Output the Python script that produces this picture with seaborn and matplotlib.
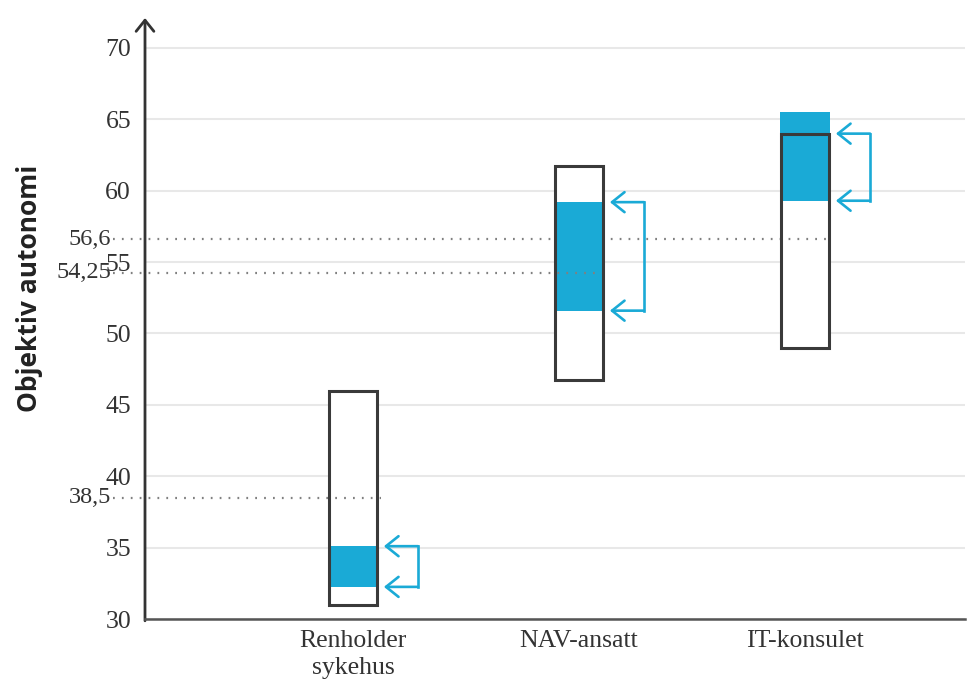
import numpy as np
import pandas as pd
import matplotlib
matplotlib.use("Agg")
import matplotlib.pyplot as plt
import seaborn as sns

# data
categories = ["Renholder\nsykehus", "NAV-ansatt", "IT-konsulet"]
range_low = [31.0, 46.75, 49.0]
range_high = [46.0, 61.75, 64.0]
fill_low = [32.25, 51.6, 59.3]
fill_high = [35.1, 59.2, 65.5]
arrow_top = [35.1, 59.2, 64.0]
arrow_bottom = [32.25, 51.6, 59.3]
ref_values = [38.5, 54.25, 56.6]
ref_labels = ["38,5", "54,25", "56,6"]
y_ticks = [30, 35, 40, 45, 50, 55, 60, 65, 70]

blue = "#1aaad6"
dark = "#3a3a3a"
serif = "Liberation Serif"
fs = 18.5

df = pd.DataFrame({
    "kat": categories,
    "range_h": np.array(range_high) - np.array(range_low),
    "fill_h": np.array(fill_high) - np.array(fill_low),
})

sns.set_style("white")
fig = plt.figure(figsize=(9.69, 6.83), dpi=100)
ax = fig.add_axes([145 / 969, 64 / 683, 820 / 969, 601 / 683])

# white box behind, blue fill, then outline on top
sns.barplot(data=df, x="kat", y="range_h", bottom=range_low, color="white",
            saturation=1, width=0.21, linewidth=0, zorder=1, ax=ax)
sns.barplot(data=df, x="kat", y="fill_h", bottom=fill_low, color=blue,
            saturation=1, width=0.225, linewidth=0, zorder=2, ax=ax)
sns.barplot(data=df, x="kat", y="range_h", bottom=range_low, color=dark,
            fill=False, width=0.21, linewidth=2.2, zorder=4, ax=ax)

ax.set_xlim(-0.92, 2.708)
ax.set_ylim(30, 72.1)
ax.set_yticks(y_ticks)
ax.set_yticklabels([str(t) for t in y_ticks], fontfamily=serif, fontsize=fs, color="#333333")
ax.tick_params(axis="y", length=0, pad=10)
ax.tick_params(axis="x", length=0, pad=8)
for lab in ax.get_xticklabels():
    lab.set_fontfamily(serif)
    lab.set_fontsize(fs)
    lab.set_color("#333333")
    lab.set_linespacing(1.3)
ax.set_xlabel("")
ax.set_ylabel("")

ax.grid(axis="y", color="#e8e8e8", linewidth=1.5, zorder=0)
ax.set_axisbelow(True)

for s in ["top", "right", "left"]:
    ax.spines[s].set_visible(False)
ax.spines["bottom"].set_color("#555555")
ax.spines["bottom"].set_linewidth(1.8)
ax.spines["bottom"].set_zorder(5)

# y axis with arrow head
ax.annotate("", xy=(0, 1), xycoords="axes fraction", xytext=(0, -0.003),
            textcoords="axes fraction",
            arrowprops=dict(arrowstyle="->, head_length=0.4, head_width=0.32",
                            color="#333333", lw=2.0, mutation_scale=20,
                            shrinkA=0, shrinkB=0), annotation_clip=False)

# dotted reference lines + labels
trans = matplotlib.transforms.blended_transform_factory(ax.transAxes, ax.transData)
x0 = -0.92 - 32 / 226
for i, (v, lab) in enumerate(zip(ref_values, ref_labels)):
    z = 1.5 if i == 2 else 3
    ax.plot([x0, i + 0.125], [v, v], linestyle=(0, (0.8, 3.2)), color="#808080",
            linewidth=1.6, zorder=z, clip_on=False)
    ax.text(-0.041, v, lab, transform=trans, ha="right", va="center",
            fontfamily=serif, fontsize=17.5, color="#333333")

# bracket arrows
for i in range(3):
    tip = i + 0.137
    xb = i + 0.288
    ax.plot([xb, xb], [arrow_bottom[i], arrow_top[i]], color=blue, lw=1.9,
            zorder=3, solid_capstyle="projecting")
    for yv in (arrow_top[i], arrow_bottom[i]):
        ax.annotate("", xy=(tip, yv), xytext=(xb, yv),
                    arrowprops=dict(arrowstyle="->, head_length=0.45, head_width=0.36",
                                    color=blue, lw=1.9, mutation_scale=20,
                                    shrinkA=0, shrinkB=0))

fig.text(30 / 969, 1 - 288 / 683, "Objektiv autonomi", rotation=90,
         ha="center", va="center", fontfamily="Open Sans", fontweight="bold",
         fontsize=19, color="#222222")

fig.savefig("out.png", dpi=100)
